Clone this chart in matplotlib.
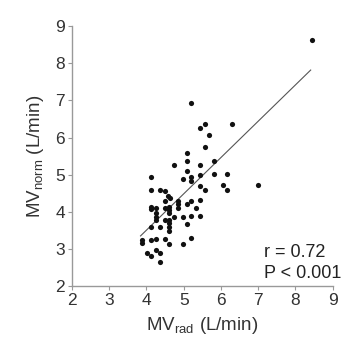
import matplotlib
matplotlib.use('Agg')
import matplotlib.pyplot as plt
import numpy as np

plt.rcParams['font.family'] = ['Liberation Sans', 'DejaVu Sans']
plt.rcParams['mathtext.fontset'] = 'custom'
plt.rcParams['mathtext.rm'] = 'Liberation Sans'

# MV_rad vs MV_norm (L/min)
mv_rad = [8.45, 5.20, 5.57, 5.45, 6.29, 5.69, 5.57,
          5.09, 5.09, 4.73, 5.45, 5.81,
          5.09, 4.13, 5.20, 5.20, 4.97, 5.45, 5.81, 6.16,
          6.05, 6.16, 7.00, 5.45, 5.57,
          4.13, 4.37, 4.49, 4.57, 4.62,
          4.49, 4.85, 4.85, 5.09, 5.20, 5.45, 5.33,
          4.13, 4.13, 4.25, 4.25, 4.25, 4.25,
          4.49, 4.61, 4.61, 4.61, 4.73, 4.85, 4.97, 5.20, 5.45,
          4.61, 4.61, 4.61, 4.61, 5.09,
          4.13, 4.37, 4.49,
          3.89, 3.89, 4.13, 4.25, 4.49, 4.61, 4.97, 5.20,
          4.01, 4.13, 4.25, 4.37, 4.37]
mv_norm = [8.63, 6.94, 6.36, 6.25, 6.36, 6.07, 5.74,
           5.59, 5.37, 5.27, 5.27, 5.37,
           5.09, 4.94, 4.94, 4.84, 4.88, 4.99, 5.02, 5.02,
           4.72, 4.59, 4.72, 4.69, 4.59,
           4.59, 4.59, 4.55, 4.42, 4.38,
           4.28, 4.28, 4.21, 4.21, 4.28, 4.31, 4.09,
           4.14, 4.07, 4.09, 3.97, 3.87, 3.78,
           4.09, 4.14, 4.05, 3.97, 3.85, 4.09, 3.87, 3.89, 3.88,
           3.78, 3.69, 3.58, 3.49, 3.68,
           3.60, 3.60, 3.78,
           3.24, 3.17, 3.24, 3.27, 3.27, 3.13, 3.13, 3.29,
           2.90, 2.81, 2.98, 2.88, 2.65]

# regression line
fit_x = [3.84, 8.41]
slope, intercept = 0.978, -0.406

fig = plt.figure(figsize=(3.59, 3.45), dpi=100)
ax = fig.add_axes([0.2006, 0.171, 0.726, 0.753])

ax.scatter(mv_rad, mv_norm, s=14, color='#111111', linewidths=0, zorder=3)
fx = np.array(fit_x)
ax.plot(fx, slope * fx + intercept, color='#555555', linewidth=0.8, zorder=2)

ax.set_xlim(2, 9)
ax.set_ylim(2, 9)
ax.set_xticks(range(2, 10))
ax.set_yticks(range(2, 10))

for s in ['top', 'right']:
    ax.spines[s].set_visible(False)
for s in ['left', 'bottom']:
    ax.spines[s].set_color('#999999')
    ax.spines[s].set_linewidth(1.0)
ax.tick_params(colors='#999999', labelcolor='#333333', labelsize=12.5,
               length=3, width=0.8, pad=2)

ax.set_xlabel(r'MV$_{\mathrm{rad}}$ (L/min)', fontsize=13.5, color='#333333', labelpad=5)
ax.set_ylabel(r'MV$_{\mathrm{norm}}$ (L/min)', fontsize=13.5, color='#333333', labelpad=7)

ax.text(0.735, 0.128, 'r = 0.72', transform=ax.transAxes, fontsize=13,
        color='#222222', va='center', ha='left')
ax.text(0.735, 0.05, 'P < 0.001', transform=ax.transAxes, fontsize=13,
        color='#222222', va='center', ha='left')

fig.savefig('out.png', dpi=100)
